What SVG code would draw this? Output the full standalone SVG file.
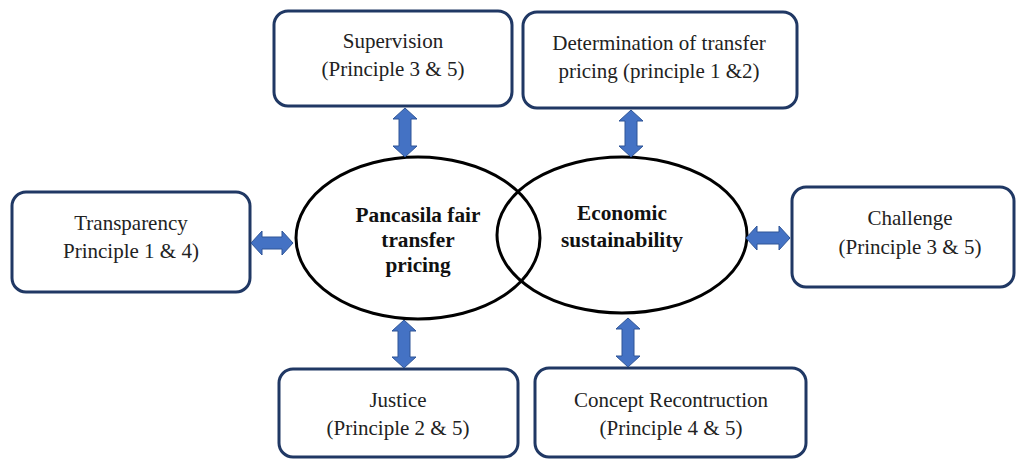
<svg xmlns="http://www.w3.org/2000/svg" width="1020" height="463" viewBox="0 0 1020 463">
<defs>
<style>
.box{fill:#fff;stroke:#203864;stroke-width:3}
.ell{fill:none;stroke:#000;stroke-width:3}
.t{font-family:"Liberation Serif","Times New Roman",serif;font-size:21px;fill:#222;text-anchor:middle}
.b{font-family:"Liberation Serif","Times New Roman",serif;font-size:21.3px;font-weight:bold;fill:#111;text-anchor:middle}
.arr{fill:#4472C4;stroke:#2F5597;stroke-width:1}
</style>
</defs>
<rect width="1020" height="463" fill="#fff"/>
<g id="supervision"><rect class="box" x="274" y="11" width="238" height="95" rx="14"/>
<text class="t" x="393" y="48">Supervision</text><text class="t" x="393" y="76">(Principle 3 &amp; 5)</text></g>
<g id="determination"><rect class="box" x="523" y="12" width="274" height="96" rx="14"/>
<text class="t" x="659" y="50">Determination of transfer</text><text class="t" x="659" y="78">pricing (principle 1 &amp;2)</text></g>
<g id="transparency"><rect class="box" x="12" y="192" width="238" height="100" rx="14"/>
<text class="t" x="131" y="230">Transparency</text><text class="t" x="131" y="258">Principle 1 &amp; 4)</text></g>
<g id="challenge"><rect class="box" x="792" y="187" width="222" height="100" rx="14"/>
<text class="t" x="910" y="225">Challenge</text><text class="t" x="910" y="254">(Principle 3 &amp; 5)</text></g>
<g id="justice"><rect class="box" x="279" y="369" width="239" height="88" rx="14"/>
<text class="t" x="398" y="407">Justice</text><text class="t" x="398" y="435">(Principle 2 &amp; 5)</text></g>
<g id="concept"><rect class="box" x="535" y="368" width="271" height="89" rx="14"/>
<text class="t" x="671" y="407">Concept Recontruction</text><text class="t" x="671" y="435">(Principle 4 &amp; 5)</text></g>
<g id="pancasila"><ellipse class="ell" cx="418" cy="238" rx="122" ry="81"/>
<text class="b" x="418" y="222">Pancasila fair</text><text class="b" x="418" y="247">transfer</text><text class="b" x="418" y="272">pricing</text></g>
<g id="economic"><ellipse class="ell" cx="622" cy="235" rx="125" ry="78"/>
<text class="b" x="622" y="220">Economic</text><text class="b" x="622" y="247">sustainability</text></g>
<g id="connectors">
<path class="arr" d="M405,108 L417,119 L411,119 L411,146 L417,146 L405,157 L393,146 L399,146 L399,119 L393,119 Z"/>
<path class="arr" d="M631,110 L643,121 L637,121 L637,146 L643,146 L631,157 L619,146 L625,146 L625,121 L619,121 Z"/>
<path class="arr" d="M404,320 L416,331 L410,331 L410,357 L416,357 L404,368 L392,357 L398,357 L398,331 L392,331 Z"/>
<path class="arr" d="M628,318 L640,329 L634,329 L634,356 L640,356 L628,367 L616,356 L622,356 L622,329 L616,329 Z"/>
<path class="arr" d="M251,243 L262,231 L262,237 L282,237 L282,231 L293,243 L282,255 L282,249 L262,249 L262,255 Z"/>
<path class="arr" d="M746,238 L757,226 L757,232 L779,232 L779,226 L790,238 L779,250 L779,244 L757,244 L757,250 Z"/>
</g>
</svg>
